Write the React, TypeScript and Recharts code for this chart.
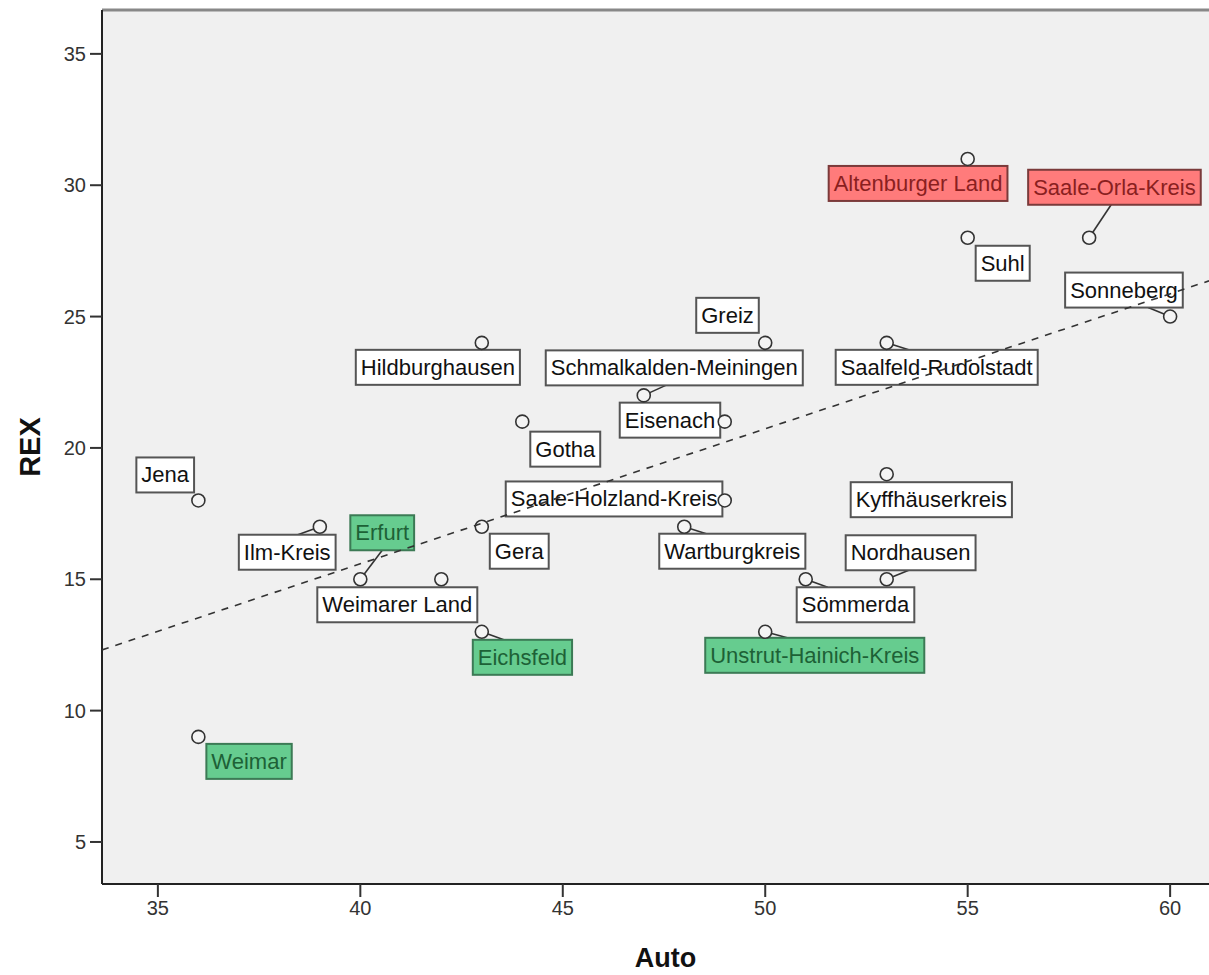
import React from "react";
import {
  ScatterChart,
  Scatter,
  XAxis,
  YAxis,
  CartesianGrid,
  ReferenceLine,
} from "recharts";

// Landkreise / kreisfreie Städte
const counties = [
  "Jena", "Weimar", "Ilm-Kreis", "Erfurt", "Weimarer Land", "Hildburghausen",
  "Gotha", "Gera", "Eichsfeld", "Schmalkalden-Meiningen", "Eisenach",
  "Saale-Holzland-Kreis", "Wartburgkreis", "Greiz", "Unstrut-Hainich-Kreis",
  "Sömmerda", "Altenburger Land", "Suhl", "Saale-Orla-Kreis", "Sonneberg",
  "Saalfeld-Rudolstadt", "Kyffhäuserkreis", "Nordhausen",
];
const autoValues = [36, 36, 39, 40, 42, 43, 44, 43, 43, 47, 49, 49, 48, 50, 50, 51, 55, 55, 58, 60, 53, 53, 53];
const rexValues = [18, 9, 17, 15, 15, 24, 21, 17, 13, 22, 21, 18, 17, 24, 13, 15, 31, 28, 28, 25, 24, 19, 15];

const greenCounties = ["Weimar", "Erfurt", "Eichsfeld", "Unstrut-Hainich-Kreis"];
const redCounties = ["Altenburger Land", "Saale-Orla-Kreis"];

// dashed fit line, ends
const fitX = [33.62, 60.96];
const fitY = [12.31, 26.36];

const xTicks = [35, 40, 45, 50, 55, 60];
const yTicks = [5, 10, 15, 20, 25, 30, 35];
const xDomain = [33.62, 60.96];
const yDomain = [3.4, 36.67];

// label box top-left relative to the point, px
const labelOffset: Record<string, [number, number]> = {
  "Jena": [-62, -43],
  "Weimar": [8, 7],
  "Ilm-Kreis": [-81, 8],
  "Erfurt": [-10, -64],
  "Weimarer Land": [-124, 8],
  "Hildburghausen": [-126, 7],
  "Gotha": [8, 10],
  "Gera": [8, 7],
  "Eichsfeld": [-9, 8],
  "Schmalkalden-Meiningen": [-98, -45],
  "Eisenach": [-105, -19],
  "Saale-Holzland-Kreis": [-219, -19],
  "Wartburgkreis": [-25, 7],
  "Greiz": [-69, -45],
  "Unstrut-Hainich-Kreis": [-60, 6],
  "Sömmerda": [-9, 8],
  "Altenburger Land": [-139, 7],
  "Suhl": [8, 8],
  "Saale-Orla-Kreis": [-61, -68],
  "Sonneberg": [-105, -44],
  "Saalfeld-Rudolstadt": [-51, 7],
  "Kyffhäuserkreis": [-36, 8],
  "Nordhausen": [-41, -44],
};

// labels that get a connector line to their point
const withLeader = [
  "Ilm-Kreis", "Erfurt", "Eichsfeld", "Schmalkalden-Meiningen", "Wartburgkreis",
  "Unstrut-Hainich-Kreis", "Sömmerda", "Nordhausen", "Saale-Orla-Kreis",
  "Sonneberg", "Saalfeld-Rudolstadt",
];

const points = counties.map((name, i) => ({ name, x: autoValues[i], y: rexValues[i] }));
const fitLine = fitX.map((x, i) => ({ x, y: fitY[i] }));

const LABEL_FONT = '22px "Liberation Sans", Arial, sans-serif';
const BOX_H = 35;

let ctx: CanvasRenderingContext2D | null = null;
function textWidth(s: string) {
  if (!ctx) ctx = document.createElement("canvas").getContext("2d");
  if (!ctx) return s.length * 10;
  ctx.font = LABEL_FONT;
  return ctx.measureText(s).width;
}

const clamp = (v: number, lo: number, hi: number) => Math.max(lo, Math.min(hi, v));

function boxFor(name: string, cx: number, cy: number) {
  const [dx, dy] = labelOffset[name] || [8, 8];
  const w = textWidth(name) + 10;
  const left = cx + dx;
  const top = cy + dy;
  const right = left + w;
  const bottom = top + BOX_H;
  let ax: number, ay: number;
  if (cy < top || cy > bottom) {
    ay = cy < top ? top : bottom;
    ax = clamp(cx + clamp(left + w / 2 - cx, -22, 22), left + 3, right - 3);
  } else {
    ax = cx < left ? left : right;
    ay = clamp(cy, top, bottom);
  }
  return { left, top, w, ax, ay };
}

function LeaderShape(props: any) {
  const { cx, cy, payload } = props;
  if (cx == null || cy == null || !withLeader.includes(payload.name)) return <g />;
  const b = boxFor(payload.name, cx, cy);
  return <line x1={cx} y1={cy} x2={b.ax} y2={b.ay} stroke="#333" strokeWidth={1.6} />;
}

function PointShape(props: any) {
  const { cx, cy } = props;
  if (cx == null || cy == null) return <g />;
  return <circle cx={cx} cy={cy} r={6.5} fill="#f4f4f4" stroke="#333" strokeWidth={1.6} />;
}

function LabelShape(props: any) {
  const { cx, cy, payload } = props;
  if (cx == null || cy == null) return <g />;
  const name = payload.name;
  const b = boxFor(name, cx, cy);
  let fill = "#ffffff";
  let stroke = "#555";
  let color = "#111";
  if (greenCounties.includes(name)) {
    fill = "#66cc8f";
    stroke = "#3c7a55";
    color = "#1d6136";
  } else if (redCounties.includes(name)) {
    fill = "#ff7b7b";
    stroke = "#7a3a3a";
    color = "#8a1f1f";
  }
  return (
    <g>
      <rect x={b.left} y={b.top} width={b.w} height={BOX_H} fill={fill} stroke={stroke} strokeWidth={2} />
      <text x={b.left + 5} y={b.top + 25} fill={color} style={{ font: LABEL_FONT }}>
        {name}
      </text>
    </g>
  );
}

function XTitle(props: any) {
  const vb = props.viewBox || {};
  return (
    <text x={vb.x + vb.width / 2 + 10} y={vb.y + 83} textAnchor="middle" fill="#111" fontSize={27} fontWeight="bold">
      Auto
    </text>
  );
}

function YTitle(props: any) {
  const vb = props.viewBox || {};
  const x = 40;
  const y = vb.y + vb.height / 2;
  return (
    <text x={x} y={y} transform={`rotate(-90 ${x} ${y})`} textAnchor="middle" fill="#111" fontSize={29} fontWeight="bold">
      REX
    </text>
  );
}

export default function App() {
  return (
    <div
      style={{
        position: "absolute",
        left: 0,
        top: 0,
        width: 1209,
        height: 975,
        background: "#fff",
        fontFamily: '"Liberation Sans", Arial, sans-serif',
      }}
    >
      <ScatterChart width={1209} height={975} margin={{ top: 10, right: 0, bottom: 0, left: 0 }}>
        <CartesianGrid horizontal={false} vertical={false} fill="#f0f0f0" stroke="none" />
        <XAxis
          type="number"
          dataKey="x"
          domain={xDomain}
          allowDataOverflow
          ticks={xTicks}
          height={91}
          tickSize={13}
          tickMargin={4}
          axisLine={{ stroke: "#222", strokeWidth: 2 }}
          tickLine={{ stroke: "#333", strokeWidth: 2 }}
          tick={{ fill: "#333", fontSize: 20 }}
          label={<XTitle />}
        />
        <YAxis
          type="number"
          dataKey="y"
          domain={yDomain}
          allowDataOverflow
          ticks={yTicks}
          width={102}
          tickSize={12}
          tickMargin={4}
          axisLine={{ stroke: "#222", strokeWidth: 2 }}
          tickLine={{ stroke: "#333", strokeWidth: 2 }}
          tick={{ fill: "#333", fontSize: 20 }}
          label={<YTitle />}
        />
        <ReferenceLine y={yDomain[1]} stroke="#888" strokeWidth={3} />
        <Scatter data={points} shape={LeaderShape} isAnimationActive={false} />
        <Scatter data={points} shape={LabelShape} isAnimationActive={false} />
        <Scatter data={points} shape={PointShape} isAnimationActive={false} />
        <Scatter
          data={fitLine}
          line={{ stroke: "#333", strokeWidth: 1.6, strokeDasharray: "7 7" }}
          lineType="joint"
          shape={() => <g />}
          isAnimationActive={false}
        />
      </ScatterChart>
    </div>
  );
}
